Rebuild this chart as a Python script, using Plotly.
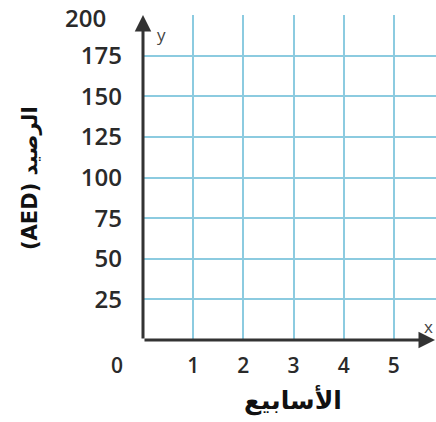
import plotly.graph_objects as go

# ---- data (axis setup only; the reference chart is an empty grid) ----
x_ticks = [1, 2, 3, 4, 5]
x_tick_labels = ["1", "2", "3", "4", "5"]
y_ticks = [25, 50, 75, 100, 125, 150, 175]
y_tick_labels = ["25", "50", "75", "100", "125", "150", "175"]
y_top_value = 200
y_top_label = "200"
origin_label = "0"
x_title = "الأسابيع"
y_title = "(AED) الرصيد"

W, H = 436, 422
ML, MR, MT, MB = 143, 0, 15, 82
x_range = [0, 5.84]
y_range = [0, 200]

AXIS = "#333333"
GRID = "#8ccbe0"
TXT = "#2a2a2a"

fig = go.Figure()
# invisible trace so axes render
fig.add_trace(go.Scatter(x=[0], y=[0], mode="markers",
                         marker=dict(opacity=0), hoverinfo="skip", showlegend=False))

fig.update_xaxes(
    range=x_range, tickvals=x_ticks, ticktext=x_tick_labels,
    showgrid=True, gridcolor=GRID, gridwidth=1.5,
    zeroline=False, showline=False, ticks="",
    tickfont=dict(family="Open Sans", size=21, color=TXT, weight=600),
    ticklabelstandoff=11, fixedrange=True, automargin=False,
)
fig.update_yaxes(
    range=y_range, tickvals=y_ticks + [y_top_value], ticktext=y_tick_labels + [""],
    showgrid=True, gridcolor=GRID, gridwidth=1.5,
    zeroline=False, showline=False, ticks="",
    tickfont=dict(family="Open Sans", size=24, color=TXT, weight=600),
    ticklabelstandoff=20, fixedrange=True, automargin=False,
)

annotations = [
    # x axis arrow
    dict(x=1, y=0, xref="paper", yref="y", ax=-(W - ML), ay=0, axref="pixel", ayref="pixel",
         text="", showarrow=True, arrowhead=2, arrowsize=1.1, arrowwidth=3, arrowcolor=AXIS),
    # y axis arrow
    dict(x=0, y=y_range[1], xref="x", yref="y", ax=0, ay=(H - MT - MB), axref="pixel", ayref="pixel",
         text="", showarrow=True, arrowhead=2, arrowsize=1.1, arrowwidth=3, arrowcolor=AXIS),
    # axis letters
    dict(x=0, y=y_range[1], xref="x", yref="y", text="y", showarrow=False,
         xanchor="left", yanchor="top", xshift=12, yshift=-6,
         font=dict(family="Open Sans", size=17, color="#444")),
    dict(x=1, y=0, xref="paper", yref="y", text="x", showarrow=False,
         xanchor="right", yanchor="bottom", xshift=-1, yshift=0,
         font=dict(family="Open Sans", size=17, color="#444")),
    # 200 label and origin label
    dict(x=0, y=y_top_value, xref="x", yref="y", text=y_top_label, showarrow=False,
         xanchor="right", yanchor="middle", xshift=-35, yshift=-2,
         font=dict(family="Open Sans", size=24, color=TXT, weight=600)),
    dict(x=0, y=0, xref="x", yref="y", text=origin_label, showarrow=False,
         xanchor="center", yanchor="middle", xshift=-26, yshift=-25,
         font=dict(family="Open Sans", size=21, color=TXT, weight=600)),
    # titles
    dict(x=(293 - ML) / (W - ML - MR), y=0, xref="paper", yref="paper", text=x_title,
         showarrow=False, xanchor="center", yanchor="middle", yshift=-60,
         font=dict(family="DejaVu Sans", size=25, color="#111", weight="bold")),
    dict(x=(30 - ML) / (W - ML - MR), y=(H - MB - 178) / (H - MT - MB), xref="paper", yref="paper",
         text=y_title, textangle=-90, showarrow=False, xanchor="center", yanchor="middle",
         font=dict(family="DejaVu Sans", size=21, color="#111", weight="bold")),
]

fig.update_layout(
    width=W, height=H,
    margin=dict(l=ML, r=MR, t=MT, b=MB, pad=0, autoexpand=False),
    paper_bgcolor="white", plot_bgcolor="white",
    annotations=annotations,
    showlegend=False,
)

fig.write_html("out.html", config=dict(displayModeBar=False),
               post_script="document.body.style.margin='0';document.body.style.overflow='hidden';")
